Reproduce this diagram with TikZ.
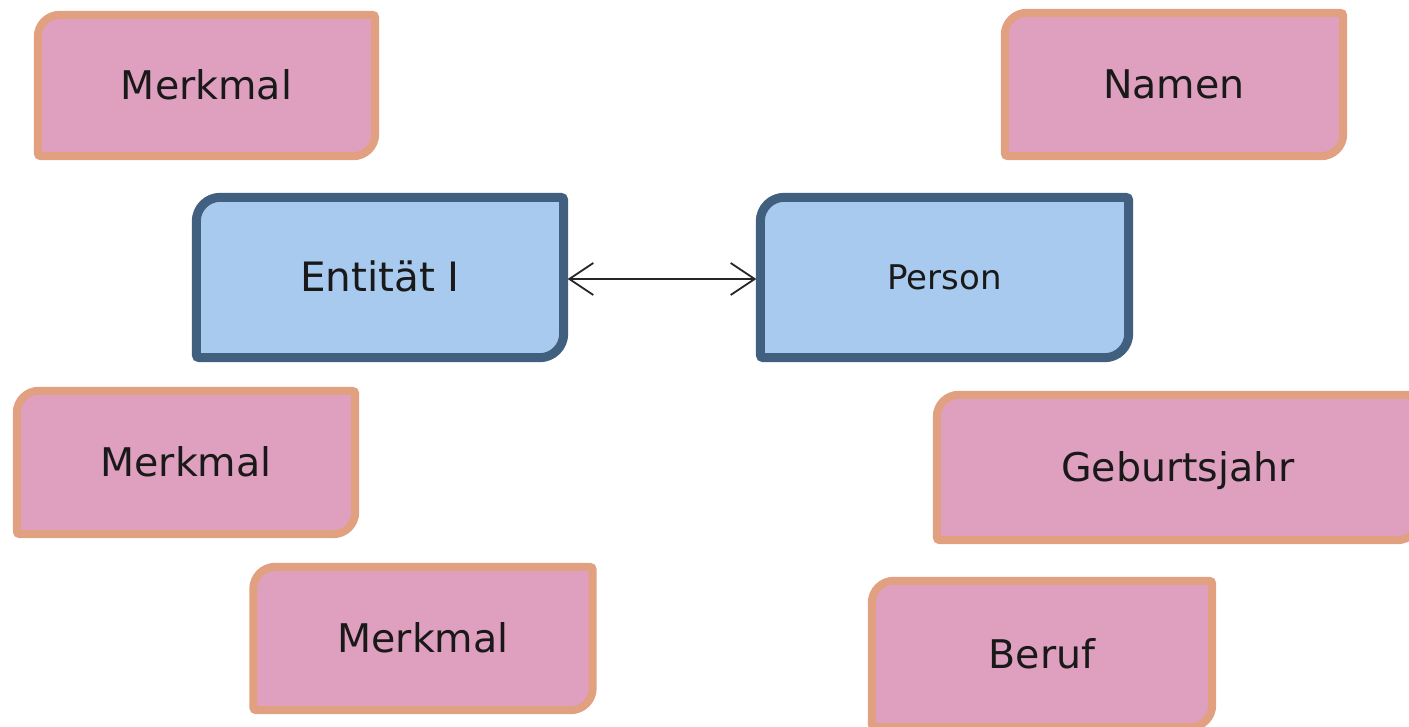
\documentclass[tikz,border=0pt]{standalone}
\usepackage{fontspec}
\setmainfont{DejaVu Sans}
\usetikzlibrary{arrows.meta}
\definecolor{pinkfill}{RGB}{223,160,192}
\definecolor{pinkline}{RGB}{225,160,128}
\definecolor{bluefill}{RGB}{168,202,238}
\definecolor{blueline}{RGB}{65,96,128}
\pgfdeclarelayer{bg}
\pgfsetlayers{bg,main}
\newcommand{\cardpath}[3]{%
  \draw[#1] ([yshift=-#3]#2.north west) arc[start angle=180,end angle=90,radius=#3]
    -- ([xshift=-3pt]#2.north east) arc[start angle=90,end angle=0,radius=3pt]
    -- ([yshift=#3]#2.south east) arc[start angle=0,end angle=-90,radius=#3]
    -- ([xshift=3pt]#2.south west) arc[start angle=270,end angle=180,radius=3pt]
    -- cycle;}
\tikzset{
  attr/.style={inner sep=0pt, text height=28.5pt, text depth=0pt,
    font=\fontsize{39.5}{44}\selectfont, text=black!90},
  ent/.style={inner sep=0pt, text height=29pt, text depth=0pt,
    font=\fontsize{40.5}{46}\selectfont, text=black!90},
  pers/.style={inner sep=0pt, text height=24.5pt, text depth=0pt,
    font=\fontsize{34}{40}\selectfont, text=black!90},
  attrshape/.style={fill=pinkfill, draw=pinkline, line width=8pt},
  entshape/.style={fill=bluefill, draw=blueline, line width=9pt},
  link/.style={draw=black!85, line width=1.8pt,
    {Straight Barb[length=24pt,width=32pt,line width=1.8pt]}-{Straight Barb[length=24pt,width=32pt,line width=1.8pt]}}
}
\begin{document}
\begin{tikzpicture}[x=1pt,y=1pt]
\useasboundingbox (0,0) rectangle (1409,726);
\node[attr, minimum width=337pt, minimum height=141pt] (m1) at (206.5,640.5) {Merkmal};
\node[attr, minimum width=338pt, minimum height=143pt] (namen) at (1174,641.5) {Namen};
\node[ent, minimum width=367pt, minimum height=160pt] (ent) at (380,448.5) {Entität I};
\node[pers, minimum width=368pt, minimum height=160pt] (person) at (944.5,448.5) {Person};
\node[attr, minimum width=338pt, minimum height=143pt] (m2) at (186,263.5) {Merkmal};
\node[attr, minimum width=339pt, minimum height=143pt] (m3) at (423,87.5) {Merkmal};
\node[attr, minimum width=482pt, minimum height=145pt] (geb) at (1178,258.5) {Geburtsjahr};
\node[attr, minimum width=340pt, minimum height=146pt] (beruf) at (1042,72) {Beruf};
\begin{pgfonlayer}{bg}
\clip (0,0) rectangle (1409,726);
\cardpath{attrshape}{m1}{22pt}
\cardpath{attrshape}{namen}{22pt}
\cardpath{attrshape}{m2}{22pt}
\cardpath{attrshape}{m3}{22pt}
\cardpath{attrshape}{geb}{22pt}
\cardpath{attrshape}{beruf}{22pt}
\cardpath{entshape}{ent}{24pt}
\cardpath{entshape}{person}{24pt}
\end{pgfonlayer}
\draw[link] ([xshift=4pt,yshift=-1.5pt]ent.east) -- ([xshift=-4pt,yshift=-1.5pt]person.west);
\end{tikzpicture}
\end{document}
